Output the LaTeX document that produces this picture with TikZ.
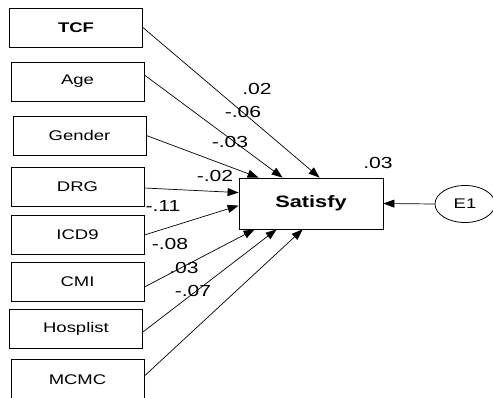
\documentclass[tikz,border=0pt]{standalone}
\usepackage{fontspec}
\setmainfont{Liberation Sans}[FakeStretch=1.32]
\usetikzlibrary{arrows.meta,calc,shapes.geometric}
\begin{document}
\begin{tikzpicture}[x=1pt,y=-1pt,
  varbox/.style={draw,line width=0.8pt,minimum width=133pt,minimum height=39pt,inner sep=0pt,font=\fontsize{14}{16}\selectfont},
  lbl/.style={inner sep=0pt,font=\fontsize{16}{18}\selectfont},
  path/.style={line width=0.7pt,-{Triangle[length=11pt,width=8pt]}}]
\useasboundingbox (0,0) rectangle (493,398);
\node[varbox] (tcf) at (76,27.5) {\textbf{TCF}};
\node[varbox] (age) at (77.5,81.5) {Age};
\node[varbox] (gender) at (79.5,135.5) {Gender};
\node[varbox] (drg) at (77.5,186.5) {DRG};
\node[varbox] (icd) at (77.5,235) {ICD9};
\node[varbox] (cmi) at (77.5,281.5) {CMI};
\node[varbox] (hosp) at (76,328.5) {Hosplist};
\node[varbox,minimum height=41pt] (mcmc) at (77.5,379.5) {MCMC};
\node[draw,line width=0.8pt,minimum width=144pt,minimum height=51pt,inner sep=0pt,font=\fontsize{16.5}{18}\selectfont\bfseries] (sat) at (311,203.5) {Satisfy};
\node[draw,ellipse,line width=0.8pt,minimum width=60pt,minimum height=37pt,inner sep=0pt,font=\fontsize{14}{16}\selectfont] (e1) at (465,204) {E1};
\draw[path] (tcf.east) -- ($(sat.north west)+(81,0)$);
\draw[path] ([yshift=6.5pt]age.east) -- ($(sat.north west)+(44,0)$);
\draw[path] (gender.east) -- ($(sat.north west)+(20,0)$);
\draw[path] ([yshift=-1.5pt]drg.east) -- ($(sat.north west)+(0,15)$);
\draw[path] (icd.east) -- ($(sat.north west)+(0,28)$);
\draw[path] ([yshift=-5.5pt]cmi.east) -- ($(sat.south west)+(16,0)$);
\draw[path] ([yshift=-3.5pt]hosp.east) -- ($(sat.south west)+(38,0)$);
\draw[path] ([yshift=3.5pt]mcmc.east) -- ($(sat.south west)+(64,0)$);
\draw[path] (e1.west) -- (sat.east);
\node[lbl] (l1) at (257,89) {.02};
\node[lbl] (l2) at (243,112) {-.06};
\node[lbl] (l3) at (230,142) {-.03};
\node[lbl] (l4) at (215,176) {-.02};
\node[lbl] (l5) at (163,206) {-.11};
\node[lbl] (l6) at (170,244) {-.08};
\node[lbl] (l7) at (184,268) {.03};
\node[lbl] (l8) at (193,291) {-.07};
\node[lbl] (l9) at (378,163) {.03};
\end{tikzpicture}
\end{document}
